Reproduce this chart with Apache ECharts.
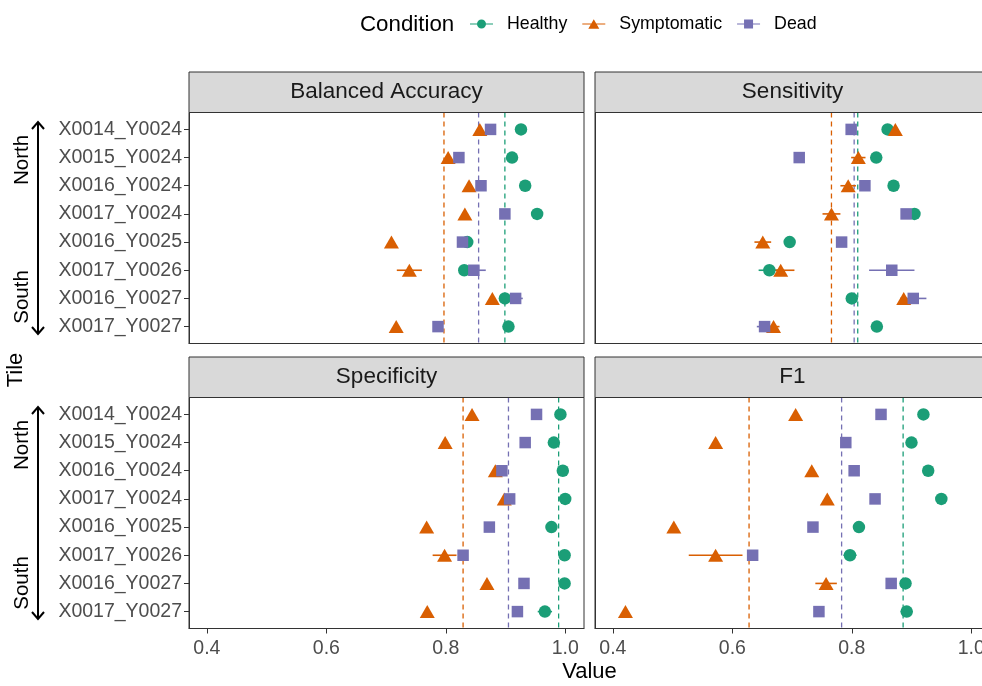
<!DOCTYPE html>
<html><head><meta charset="utf-8">
<script src="https://cdn.jsdelivr.net/npm/echarts@6/dist/echarts.min.js"></script>
<style>html,body{margin:0;padding:0;background:#fff}#c{width:982px;height:686px}</style>
</head><body><div id="c"></div>
<script>
// ---------- data ----------
const tiles = ['X0014_Y0024','X0015_Y0024','X0016_Y0024','X0017_Y0024','X0016_Y0025','X0017_Y0026','X0016_Y0027','X0017_Y0027'];
const conditions = ['Healthy','Symptomatic','Dead'];
const panelTitles = ['Balanced Accuracy','Sensitivity','Specificity','F1'];
const xTickValues = [0.4, 0.6, 0.8, 1.0];

const baHealthy     = [0.926,0.911,0.933,0.953,0.836,0.831,0.899,0.905];
const baSymptomatic = [0.857,0.804,0.839,0.832,0.709,0.739,0.878,0.717];
const baDead        = [0.875,0.822,0.859,0.899,0.828,0.847,0.917,0.787];
const baHealthyErr     = [0,0,0,0,0,0,0,0];
const baSymptomaticErr = [0,0,0,0,0,0.021,0,0];
const baDeadErr        = [0,0,0,0,0,0.020,0.012,0];
const baMeans = [0.899, 0.797, 0.855];

const seHealthy     = [0.860,0.841,0.870,0.905,0.696,0.662,0.800,0.842];
const seSymptomatic = [0.873,0.811,0.794,0.766,0.651,0.681,0.887,0.669];
const seDead        = [0.799,0.712,0.822,0.891,0.783,0.867,0.903,0.654];
const seHealthyErr     = [0,0,0,0,0,0.018,0,0];
const seSymptomaticErr = [0,0.012,0.013,0.015,0.014,0.023,0,0.010];
const seDeadErr        = [0,0,0,0,0,0.038,0.022,0.013];
const seMeans = [0.810, 0.766, 0.804];

const spHealthy     = [0.992,0.981,0.996,1.000,0.977,0.999,0.999,0.966];
const spSymptomatic = [0.844,0.799,0.883,0.898,0.768,0.798,0.869,0.769];
const spDead        = [0.952,0.933,0.894,0.907,0.873,0.829,0.931,0.920];
const spHealthyErr     = [0,0,0,0,0,0,0,0.012];
const spSymptomaticErr = [0,0,0,0,0,0.020,0,0];
const spDeadErr        = [0,0,0,0,0,0,0,0];
const spMeans = [0.989, 0.829, 0.905];

const f1Healthy     = [0.920,0.900,0.928,0.950,0.812,0.797,0.890,0.892];
const f1Symptomatic = [0.706,0.572,0.733,0.759,0.502,0.572,0.757,0.421];
const f1Dead        = [0.849,0.790,0.804,0.839,0.735,0.634,0.866,0.745];
const f1HealthyErr     = [0,0,0,0,0,0.011,0,0.010];
const f1SymptomaticErr = [0,0,0,0,0,0.045,0.018,0];
const f1DeadErr        = [0,0,0,0.005,0,0,0.006,0.006];
const f1Means = [0.886, 0.628, 0.783];

const panelValues = [
  [baHealthy, baSymptomatic, baDead],
  [seHealthy, seSymptomatic, seDead],
  [spHealthy, spSymptomatic, spDead],
  [f1Healthy, f1Symptomatic, f1Dead]
];
const panelErrs = [
  [baHealthyErr, baSymptomaticErr, baDeadErr],
  [seHealthyErr, seSymptomaticErr, seDeadErr],
  [spHealthyErr, spSymptomaticErr, spDeadErr],
  [f1HealthyErr, f1SymptomaticErr, f1DeadErr]
];
const panelMeans = [baMeans, seMeans, spMeans, f1Means];

// ---------- style / layout ----------
const FONT = '"Liberation Sans", Arial, Helvetica, sans-serif';
const colors = ['#1B9E77', '#D95F02', '#7570B3'];
const symbols = ['circle', 'triangle', 'rect'];
const symbolSizes = [12.5, [15, 13], 11.5];
const PW = 395, PH = 231, STRIP = 40.5;
const gridPos = [
  {left: 189, top: 112.5}, {left: 595, top: 112.5},
  {left: 189, top: 397.5}, {left: 595, top: 397.5}
];
const yIdx = tiles.map((t, i) => i);

const grids = [], xAxes = [], yAxes = [], series = [], graphics = [];

gridPos.forEach((g, p) => {
  const isBottom = p >= 2, isLeft = p % 2 === 0;
  grids.push({left: g.left, top: g.top, width: PW, height: PH, show: true,
    borderColor: '#333333', borderWidth: 1, backgroundColor: '#ffffff',
    containLabel: false, outerBoundsMode: 'none'});
  xAxes.push({type: 'value', gridIndex: p, min: 0.37, max: 1.0315, position: 'bottom',
    splitLine: {show: false},
    axisLine: {show: true, onZero: false, lineStyle: {color: '#333333', width: 1}},
    axisTick: {show: isBottom, customValues: xTickValues, length: 5, lineStyle: {color: '#333333', width: 1}},
    axisLabel: {show: isBottom, customValues: xTickValues, formatter: v => v.toFixed(1),
      fontSize: 19.5, fontFamily: FONT, color: '#4D4D4D', margin: 10}});
  yAxes.push({type: 'value', gridIndex: p, min: -0.6, max: 7.6, inverse: true, position: 'left',
    splitLine: {show: false},
    axisLine: {show: true, onZero: false, lineStyle: {color: '#333333', width: 1}},
    axisTick: {show: isLeft, customValues: yIdx, length: 5, lineStyle: {color: '#333333', width: 1}},
    axisLabel: {show: isLeft, customValues: yIdx, formatter: v => tiles[Math.round(v)],
      fontSize: 19.5, fontFamily: FONT, color: '#4D4D4D', margin: 7}});

  // mean dashed lines
  conditions.forEach((c, ci) => {
    const m = panelMeans[p][ci];
    series.push({type: 'line', name: 'mean ' + c, xAxisIndex: p, yAxisIndex: p,
      data: [[m, -0.6], [m, 7.6]], symbol: 'none', silent: true, z: 1,
      lineStyle: {color: colors[ci], width: 1.3, type: [5, 4]}});
  });
  // error bars
  conditions.forEach((c, ci) => {
    const vals = panelValues[p][ci], errs = panelErrs[p][ci];
    const d = [];
    vals.forEach((v, i) => { if (errs[i] > 0) d.push([v - errs[i], v + errs[i], i]); });
    if (!d.length) return;
    series.push({type: 'custom', name: 'err ' + c, xAxisIndex: p, yAxisIndex: p, z: 2,
      silent: true, encode: {x: [0, 1], y: 2}, data: d,
      renderItem: (params, api) => {
        const a = api.coord([api.value(0), api.value(2)]);
        const b = api.coord([api.value(1), api.value(2)]);
        return {type: 'line', shape: {x1: a[0], y1: a[1], x2: b[0], y2: b[1]},
          style: {stroke: colors[ci], lineWidth: 1.6}};
      }});
  });
  // points
  conditions.forEach((c, ci) => {
    series.push({type: 'scatter', name: c, xAxisIndex: p, yAxisIndex: p, z: 3 + ci,
      symbol: symbols[ci], symbolSize: symbolSizes[ci],
      itemStyle: {color: colors[ci], opacity: 1},
      data: panelValues[p][ci].map((v, i) => [v, i])});
  });

  // strip
  graphics.push({type: 'rect', shape: {x: g.left, y: g.top - STRIP, width: PW, height: STRIP},
    style: {fill: '#D9D9D9', stroke: '#333333', lineWidth: 1}, z: 10});
  graphics.push({type: 'text', x: g.left + PW / 2, y: g.top - STRIP / 2, z: 11,
    style: {text: panelTitles[p], fontSize: 22.5, fontFamily: FONT, fill: '#1A1A1A',
      textAlign: 'center', align: 'center', textVerticalAlign: 'middle', verticalAlign: 'middle'}});
});

// North / South arrows
[[122, 334, 160, 297], [407, 619, 445, 583]].forEach(([y1, y2, yn, ys]) => {
  graphics.push({type: 'line', shape: {x1: 38, y1: y1 + 1, x2: 38, y2: y2 - 1}, style: {stroke: '#000', lineWidth: 2}});
  graphics.push({type: 'polyline', shape: {points: [[32, y1 + 7], [38, y1], [44, y1 + 7]]}, style: {stroke: '#000', lineWidth: 2, fill: null}});
  graphics.push({type: 'polyline', shape: {points: [[32, y2 - 7], [38, y2], [44, y2 - 7]]}, style: {stroke: '#000', lineWidth: 2, fill: null}});
  [['North', yn], ['South', ys]].forEach(([t, yy]) => {
    graphics.push({type: 'text', x: 22, y: yy, rotation: Math.PI / 2,
      style: {text: t, fontSize: 20.5, fontFamily: FONT, fill: '#000',
        textAlign: 'center', align: 'center', textVerticalAlign: 'middle', verticalAlign: 'middle'}});
  });
});
// axis titles
graphics.push({type: 'text', x: 16, y: 370, rotation: Math.PI / 2,
  style: {text: 'Tile', fontSize: 22, fontFamily: FONT, fill: '#000',
    textAlign: 'center', align: 'center', textVerticalAlign: 'middle', verticalAlign: 'middle'}});
graphics.push({type: 'text', x: 589.5, y: 672,
  style: {text: 'Value', fontSize: 22, fontFamily: FONT, fill: '#000',
    textAlign: 'center', align: 'center', textVerticalAlign: 'middle', verticalAlign: 'middle'}});
graphics.push({type: 'text', x: 360, y: 25,
  style: {text: 'Condition', fontSize: 22.3, fontFamily: FONT, fill: '#000',
    textAlign: 'left', align: 'left', textVerticalAlign: 'middle', verticalAlign: 'middle'}});

const lineBar = 'M0,4.4 L23,4.4 L23,5.6 L0,5.6 Z ';
const legendIcons = {
  Healthy: 'path://' + lineBar + 'M7,5 A4.5,4.5 0 1 1 16,5 A4.5,4.5 0 1 1 7,5 Z',
  Symptomatic: 'path://' + lineBar + 'M6,9.8 L11.5,0.2 L17,9.8 Z',
  Dead: 'path://' + lineBar + 'M7,0.5 L16,0.5 L16,9.5 L7,9.5 Z'
};

const option = {
  animation: false,
  backgroundColor: '#ffffff',
  grid: grids, xAxis: xAxes, yAxis: yAxes, series: series,
  legend: {left: 470, top: 15, padding: 0, itemWidth: 23, itemHeight: 10, itemGap: 15,
    selectedMode: false,
    data: conditions.map(c => ({name: c, icon: legendIcons[c]})),
    textStyle: {fontSize: 17.8, fontFamily: FONT, color: '#000', padding: [0, 0, 0, 9]}},
  graphic: graphics
};
const chart = echarts.init(document.getElementById('c'), null, {renderer: 'canvas'});
chart.setOption(option);
</script></body></html>
